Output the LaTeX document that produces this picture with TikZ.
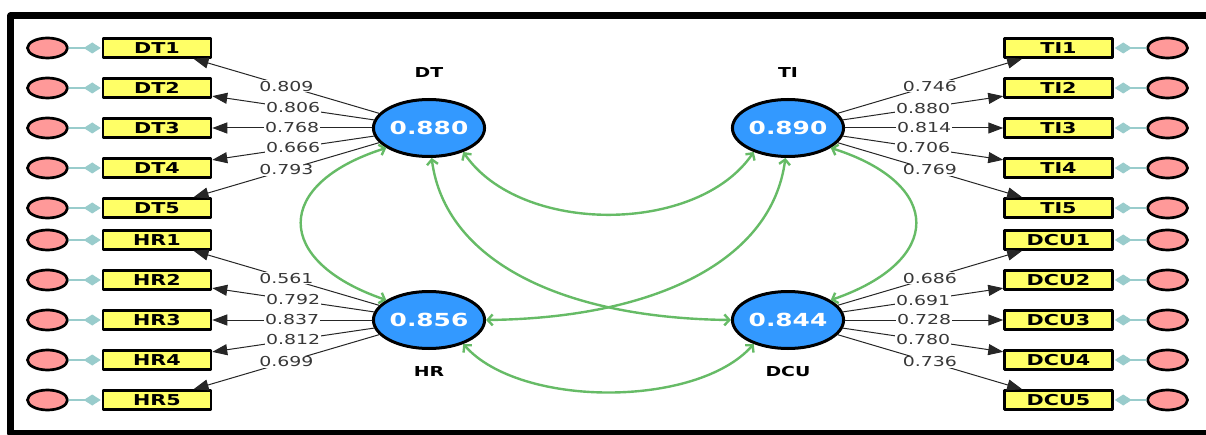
\documentclass[tikz,border=0pt]{standalone}
\usepackage{fontspec}
\newfontfamily\plsfont[FakeStretch=1.38]{DejaVu Sans}
\usetikzlibrary{shapes.geometric,arrows.meta}

\definecolor{latblue}{HTML}{3399FF}
\definecolor{indyel}{HTML}{FFFF66}
\definecolor{errpink}{HTML}{FF9999}
\definecolor{errteal}{HTML}{99CCCC}
\definecolor{covgreen}{HTML}{66BB66}

\begin{document}
\begin{tikzpicture}[line cap=round,line join=round,x=1pt,y=1pt,
	latent/.style={ellipse,draw,line width=3pt,fill=latblue,minimum width=102pt,minimum height=57pt,inner sep=0pt,text=white,font={\plsfont\bfseries\fontsize{18}{20}\selectfont}},
	latname/.style={font={\plsfont\bfseries\fontsize{13.7}{15}\selectfont}},
	ind/.style={rectangle,draw,line width=2.5pt,fill=indyel,minimum width=108pt,minimum height=19pt,inner sep=0pt,font={\plsfont\bfseries\fontsize{15}{16}\selectfont}},
	err/.style={ellipse,draw,line width=2.7pt,fill=errpink,minimum width=40pt,minimum height=20pt,inner sep=0pt},
	errline/.style={draw=errteal,line width=1.4pt,-{Diamond[length=17pt,width=11pt]},shorten >=1pt},
	load/.style={draw=black!85,line width=1pt,-{Triangle[length=15pt,width=11pt]}},
	lbl/.style={fill=white,inner sep=1pt,text=black!78,font={\plsfont\fontsize{13.7}{15}\selectfont}},
	cov/.style={draw=covgreen,line width=2.4pt,{Straight Barb[length=5pt,width=11pt]}-{Straight Barb[length=5pt,width=11pt]}}]
	\useasboundingbox (0,0) rectangle (1206,434);
	% frame
	\draw [line width=7pt,line cap=butt] (1210,418) -- (10.5,418) -- (10.5,0.5) -- (1210,0.5);

	%% Constructs
	\node[latent] (DT) at (429,306) {0.880};
	\node[latent] (TI) at (788,306) {0.890};
	\node[latent] (HR) at (429,114) {0.856};
	\node[latent] (DCU) at (788,114) {0.844};
	\node[latname] (DTname) at (429,361) {DT};
	\node[latname] (TIname) at (788,361) {TI};
	\node[latname] (HRname) at (429,62) {HR};
	\node[latname] (DCUname) at (788,62) {DCU};

	%% Indicators, left
	\node[ind] (DT1) at (157,386) {DT1};
	\node[ind] (DT2) at (157,346) {DT2};
	\node[ind] (DT3) at (157,306) {DT3};
	\node[ind] (DT4) at (157,266) {DT4};
	\node[ind] (DT5) at (157,226) {DT5};
	\node[ind] (HR1) at (157,194) {HR1};
	\node[ind] (HR2) at (157,154) {HR2};
	\node[ind] (HR3) at (157,114) {HR3};
	\node[ind] (HR4) at (157,74) {HR4};
	\node[ind] (HR5) at (157,34) {HR5};
	%% Indicators, right
	\node[ind] (TI1) at (1058.5,386) {TI1};
	\node[ind] (TI2) at (1058.5,346) {TI2};
	\node[ind] (TI3) at (1058.5,306) {TI3};
	\node[ind] (TI4) at (1058.5,266) {TI4};
	\node[ind] (TI5) at (1058.5,226) {TI5};
	\node[ind] (DCU1) at (1058.5,194) {DCU1};
	\node[ind] (DCU2) at (1058.5,154) {DCU2};
	\node[ind] (DCU3) at (1058.5,114) {DCU3};
	\node[ind] (DCU4) at (1058.5,74) {DCU4};
	\node[ind] (DCU5) at (1058.5,34) {DCU5};

	%% Error terms
	\node[err] (eDT1) at (47.5,386) {};
	\node[err] (eDT2) at (47.5,346) {};
	\node[err] (eDT3) at (47.5,306) {};
	\node[err] (eDT4) at (47.5,266) {};
	\node[err] (eDT5) at (47.5,226) {};
	\node[err] (eHR1) at (47.5,194) {};
	\node[err] (eHR2) at (47.5,154) {};
	\node[err] (eHR3) at (47.5,114) {};
	\node[err] (eHR4) at (47.5,74) {};
	\node[err] (eHR5) at (47.5,34) {};
	\node[err] (eTI1) at (1167.5,386) {};
	\node[err] (eTI2) at (1167.5,346) {};
	\node[err] (eTI3) at (1167.5,306) {};
	\node[err] (eTI4) at (1167.5,266) {};
	\node[err] (eTI5) at (1167.5,226) {};
	\node[err] (eDCU1) at (1167.5,194) {};
	\node[err] (eDCU2) at (1167.5,154) {};
	\node[err] (eDCU3) at (1167.5,114) {};
	\node[err] (eDCU4) at (1167.5,74) {};
	\node[err] (eDCU5) at (1167.5,34) {};

	\draw[errline] (eDT1) -- (DT1);
	\draw[errline] (eDT2) -- (DT2);
	\draw[errline] (eDT3) -- (DT3);
	\draw[errline] (eDT4) -- (DT4);
	\draw[errline] (eDT5) -- (DT5);
	\draw[errline] (eHR1) -- (HR1);
	\draw[errline] (eHR2) -- (HR2);
	\draw[errline] (eHR3) -- (HR3);
	\draw[errline] (eHR4) -- (HR4);
	\draw[errline] (eHR5) -- (HR5);
	\draw[errline] (eTI1) -- (TI1);
	\draw[errline] (eTI2) -- (TI2);
	\draw[errline] (eTI3) -- (TI3);
	\draw[errline] (eTI4) -- (TI4);
	\draw[errline] (eTI5) -- (TI5);
	\draw[errline] (eDCU1) -- (DCU1);
	\draw[errline] (eDCU2) -- (DCU2);
	\draw[errline] (eDCU3) -- (DCU3);
	\draw[errline] (eDCU4) -- (DCU4);
	\draw[errline] (eDCU5) -- (DCU5);

	%% Outer loadings
	\draw[load] (DT) -- node[lbl] {0.809} (DT1);
	\draw[load] (DT) -- node[lbl] {0.806} (DT2);
	\draw[load] (DT) -- node[lbl] {0.768} (DT3);
	\draw[load] (DT) -- node[lbl] {0.666} (DT4);
	\draw[load] (DT) -- node[lbl] {0.793} (DT5);
	\draw[load] (HR) -- node[lbl] {0.561} (HR1);
	\draw[load] (HR) -- node[lbl] {0.792} (HR2);
	\draw[load] (HR) -- node[lbl] {0.837} (HR3);
	\draw[load] (HR) -- node[lbl] {0.812} (HR4);
	\draw[load] (HR) -- node[lbl] {0.699} (HR5);
	\draw[load] (TI) -- node[lbl] {0.746} (TI1);
	\draw[load] (TI) -- node[lbl] {0.880} (TI2);
	\draw[load] (TI) -- node[lbl] {0.814} (TI3);
	\draw[load] (TI) -- node[lbl] {0.706} (TI4);
	\draw[load] (TI) -- node[lbl] {0.769} (TI5);
	\draw[load] (DCU) -- node[lbl] {0.686} (DCU1);
	\draw[load] (DCU) -- node[lbl] {0.691} (DCU2);
	\draw[load] (DCU) -- node[lbl] {0.728} (DCU3);
	\draw[load] (DCU) -- node[lbl] {0.780} (DCU4);
	\draw[load] (DCU) -- node[lbl] {0.736} (DCU5);

	%% Correlations between constructs
	\draw[cov] (DT.205) .. controls (273,250) and (273,173) .. (HR.155);
	\draw[cov] (TI.-25) .. controls (944,250) and (944,173) .. (DCU.25);
	\draw[cov] (DT.-35) .. controls (520,199) and (697,199) .. (TI.215);
	\draw[cov] (HR.-35) .. controls (520,26) and (697,26) .. (DCU.215);
	\draw[cov] (DT.-85) .. controls (445,174) and (560,116) .. (DCU.west);
	\draw[cov] (TI.-95) .. controls (772,174) and (657,116) .. (HR.east);
\end{tikzpicture}
\end{document}
